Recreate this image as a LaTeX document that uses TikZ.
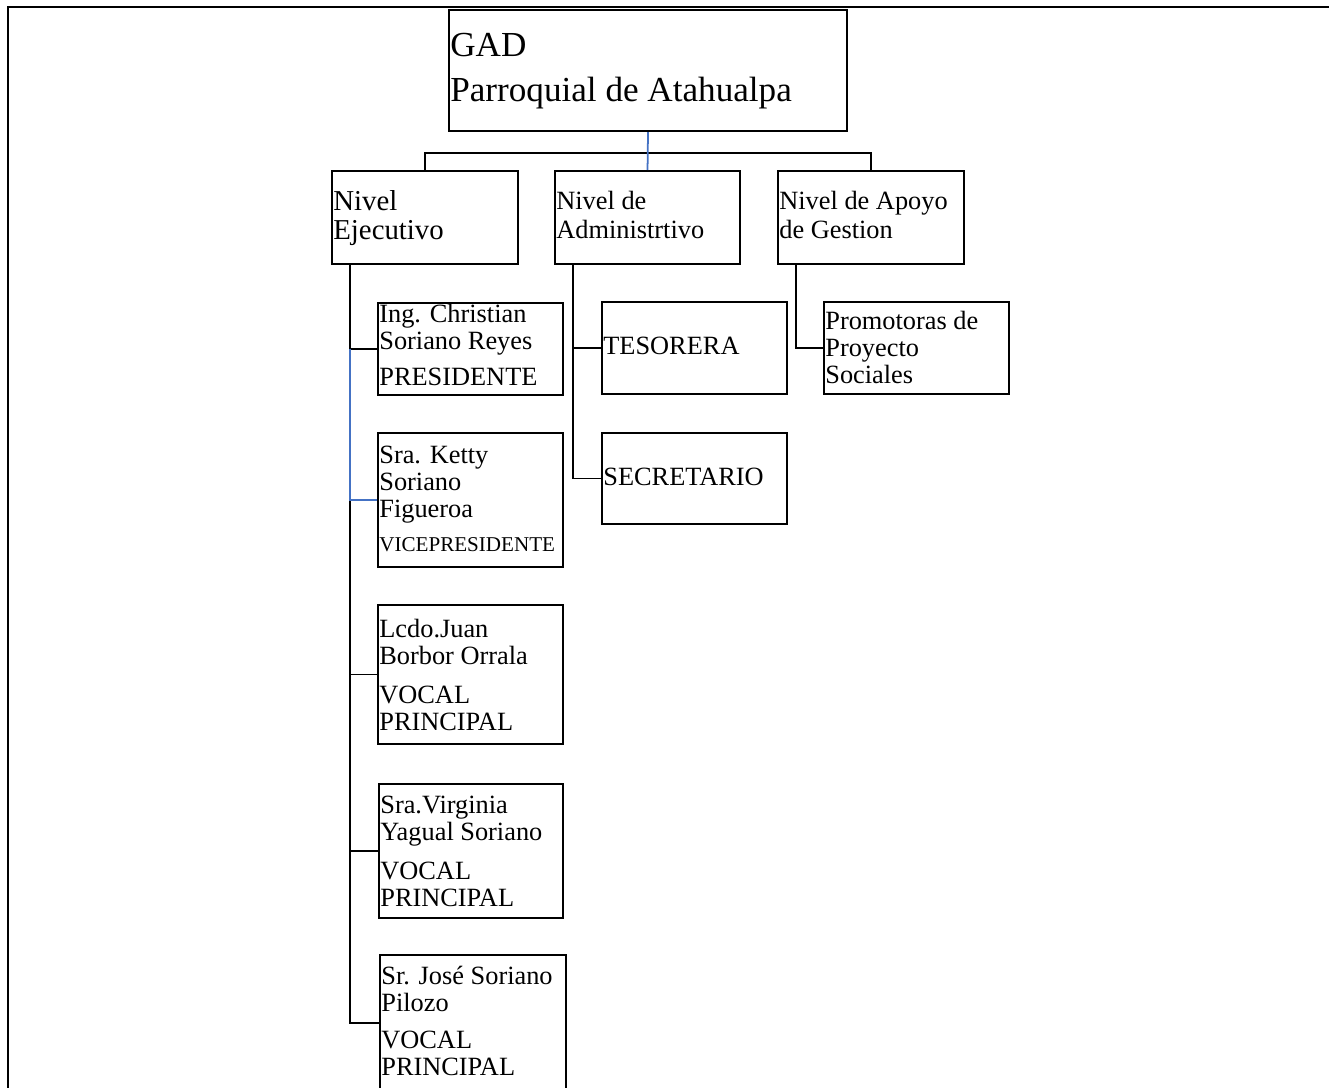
\documentclass[tikz,border=0pt]{standalone}
\usepackage{fontspec}
\setmainfont{Liberation Serif}
\usetikzlibrary{calc}
\definecolor{linkblue}{RGB}{68,114,196}

\begin{document}
\begin{tikzpicture}[
    x=0.02cm, y=-0.02cm,
    % --- Styles ---
    org_box/.style={draw=black, line width=1.2pt, fill=white, anchor=north west, inner sep=0pt},
    level_box/.style={org_box, minimum width=3.72cm, minimum height=1.86cm},
    member_box/.style={org_box, minimum width=3.7cm, minimum height=#1},
    box_text/.style={anchor=north west, inner sep=0pt, align=left, font=\fontsize{15}{15.3}\selectfont},
    level_text/.style={box_text, font=\fontsize{15}{16.2}\selectfont},
    link/.style={draw=black, line width=0.7pt},
    link_blue/.style={draw=linkblue, line width=1pt},
    frame_line/.style={draw=black, line width=1.3pt},
]
    \useasboundingbox (0,0) rectangle (1329,1088);

    % ==========================
    % 1. PAGE FRAME
    % ==========================
    \draw[frame_line] (8,1100) -- (8,7) -- (1340,7);

    % ==========================
    % 2. TOP BOX
    % ==========================
    \node[org_box, minimum width=7.96cm, minimum height=2.42cm] (gad) at (448,9) {};
    \node[box_text, font=\fontsize{20}{25.5}\selectfont] (gad_txt) at ($(gad.north west)+(2,24)$) {GAD\\Parroquial de Atahualpa};

    % ==========================
    % 3. LEVELS
    % ==========================
    \node[level_box] (eje) at (331,170) {};
    \node[level_text, font=\fontsize{16.4}{16.6}\selectfont] (eje_txt) at ($(eje.north west)+(2,20)$) {Nivel\\Ejecutivo};

    \node[level_box, minimum width=3.7cm] (adm) at (554,170) {};
    \node[level_text] (adm_txt) at ($(adm.north west)+(2,21)$) {Nivel de\\Administrtivo};

    \node[level_box] (apo) at (777,170) {};
    \node[level_text] (apo_txt) at ($(apo.north west)+(2,21)$) {Nivel de Apoyo\\de Gestion};

    % top links
    \coordinate (bus) at ($(gad.south)+(0,21)$);
    \draw[link] (eje.north) |- (bus) -| (apo.north);
    \draw[link_blue] (gad.south) -- (adm.north);

    % ==========================
    % 4. EXECUTIVE MEMBERS
    % ==========================
    \node[member_box=1.84cm] (pres) at (377,302) {};
    \node[box_text] (pres_txt) at ($(pres.north west)+(2,2)$) {Ing. Christian\\Soriano Reyes\\[5pt]PRESIDENTE};

    \node[member_box=2.68cm] (vice) at (377,432) {};
    \node[box_text] (vice_txt) at ($(vice.north west)+(2,14)$) {Sra. Ketty\\Soriano\\Figueroa\\[4pt]{\fontsize{12}{13}\selectfont VICEPRESIDENTE}};

    \node[member_box=2.78cm] (lcdo) at (377,604) {};
    \node[box_text] (lcdo_txt) at ($(lcdo.north west)+(2,15)$) {Lcdo.Juan\\Borbor Orrala\\[7pt]VOCAL\\PRINCIPAL};

    \node[member_box=2.68cm, minimum width=3.68cm] (virg) at (378,783) {};
    \node[box_text] (virg_txt) at ($(virg.north west)+(2,13)$) {Sra.Virginia\\Yagual Soriano\\[7pt]VOCAL\\PRINCIPAL};

    \node[member_box=2.72cm, minimum width=3.72cm] (jose) at (379,954) {};
    \node[box_text] (jose_txt) at ($(jose.north west)+(2,12)$) {Sr. José Soriano\\Pilozo\\[6pt]VOCAL\\PRINCIPAL};

    % executive links
    \coordinate (eje_trunk) at ($(eje.south west)+(19,0)$);
    \draw[link] (eje_trunk) |- (jose.west);
    \draw[link] (eje_trunk |- pres.west) -- (pres.west);
    \draw[link] (eje_trunk |- lcdo.west) -- (lcdo.west);
    \draw[link] (eje_trunk |- virg.west) -- (virg.west);
    \draw[link_blue] (eje_trunk |- pres.west) |- (vice.west);

    % ==========================
    % 5. ADMINISTRATIVE MEMBERS
    % ==========================
    \node[member_box=1.84cm] (tes) at (601,301) {};
    \node[box_text] (tes_txt) at ($(tes.north west)+(2,36)$) {TESORERA};

    \node[member_box=1.82cm] (sec) at (601,432) {};
    \node[box_text] (sec_txt) at ($(sec.north west)+(2,36)$) {SECRETARIO};

    \coordinate (adm_trunk) at ($(adm.south west)+(19,0)$);
    \draw[link] (adm_trunk) |- (sec.west);
    \draw[link] (adm_trunk |- tes.west) -- (tes.west);

    % ==========================
    % 6. SUPPORT MEMBERS
    % ==========================
    \node[member_box=1.84cm] (prom) at (823,301) {};
    \node[box_text] (prom_txt) at ($(prom.north west)+(2,10)$) {Promotoras de\\Proyecto\\Sociales};

    \coordinate (apo_trunk) at ($(apo.south west)+(19,0)$);
    \draw[link] (apo_trunk) |- (prom.west);

\end{tikzpicture}
\end{document}
